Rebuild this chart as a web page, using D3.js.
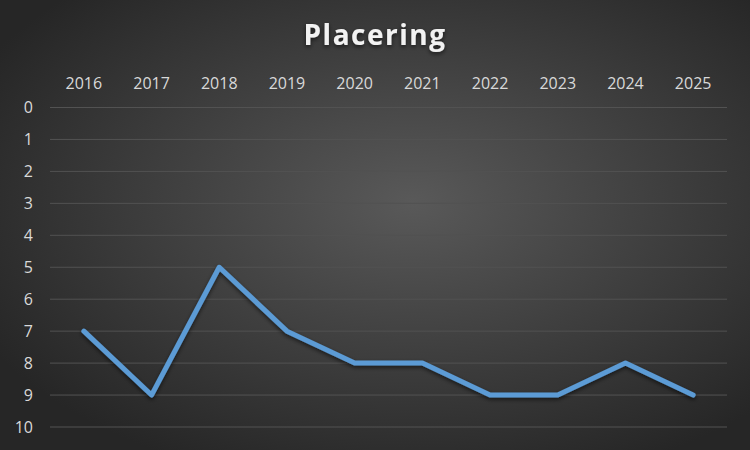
<!DOCTYPE html>
<meta charset="utf-8">
<style>
  body { margin: 0; }
  svg { display: block; }
</style>
<script src="https://d3js.org/d3.v7.min.js"></script>
<div id="chart"></div>
<script>
  var years = ["2016", "2017", "2018", "2019", "2020", "2021", "2022", "2023", "2024", "2025"];
  var placering = [7, 9, 5, 7, 8, 8, 9, 9, 8, 9];
  var yTicks = [0, 1, 2, 3, 4, 5, 6, 7, 8, 9, 10];

  var width = 750, height = 450;
  var margin = {top: 107.5, right: 23, bottom: 23, left: 50};

  var svg = d3.select("#chart").append("svg")
    .attr("width", width)
    .attr("height", height);

  var defs = svg.append("defs");
  var grad = defs.append("radialGradient")
    .attr("id", "bg")
    .attr("cx", "55%").attr("cy", "45%").attr("r", "65%");
  grad.append("stop").attr("offset", "0%").attr("stop-color", "#595959");
  grad.append("stop").attr("offset", "100%").attr("stop-color", "#262626");

  var shadow = defs.append("filter").attr("id", "shadow")
    .attr("x", "-10%").attr("y", "-10%").attr("width", "120%").attr("height", "130%");
  shadow.append("feDropShadow")
    .attr("dx", 0).attr("dy", 2).attr("stdDeviation", 2)
    .attr("flood-color", "#000").attr("flood-opacity", 0.6);

  svg.append("rect")
    .attr("width", width).attr("height", height)
    .attr("fill", "url(#bg)");

  var x = d3.scalePoint()
    .domain(years)
    .range([margin.left, width - margin.right])
    .padding(0.5);

  var y = d3.scaleLinear()
    .domain([0, 10])
    .range([margin.top, height - margin.bottom]);

  // gridlines
  svg.append("g")
    .selectAll("line")
    .data(yTicks)
    .join("line")
      .attr("x1", margin.left)
      .attr("x2", width - margin.right)
      .attr("y1", function(d) { return y(d); })
      .attr("y2", function(d) { return y(d); })
      .attr("stroke", "#525252")
      .attr("stroke-width", 1);

  // y labels
  svg.append("g")
    .selectAll("text")
    .data(yTicks)
    .join("text")
      .attr("x", 33)
      .attr("y", function(d) { return y(d); })
      .attr("dy", "0.35em")
      .attr("text-anchor", "end")
      .attr("fill", "#d9d9d9")
      .style("font-family", "'Open Sans', sans-serif")
      .style("font-size", "16px")
      .text(function(d) { return d; });

  // x labels (top)
  svg.append("g")
    .selectAll("text")
    .data(years)
    .join("text")
      .attr("x", function(d) { return x(d); })
      .attr("y", 83)
      .attr("dy", "0.35em")
      .attr("text-anchor", "middle")
      .attr("fill", "#d9d9d9")
      .style("font-family", "'Open Sans', sans-serif")
      .style("font-size", "16px")
      .text(function(d) { return d; });

  // title
  svg.append("text")
    .attr("x", width / 2)
    .attr("y", 45)
    .attr("text-anchor", "middle")
    .attr("fill", "#f2f2f2")
    .attr("filter", "url(#shadow)")
    .style("font-family", "'Open Sans', sans-serif")
    .style("font-weight", "bold")
    .style("font-size", "28px")
    .style("letter-spacing", "1.5px")
    .text("Placering");

  // line
  var line = d3.line()
    .x(function(d, i) { return x(years[i]); })
    .y(function(d) { return y(d); });

  svg.append("path")
    .datum(placering)
    .attr("fill", "none")
    .attr("stroke", "#5b9bd5")
    .attr("stroke-width", 5)
    .attr("stroke-linejoin", "round")
    .attr("stroke-linecap", "round")
    .attr("filter", "url(#shadow)")
    .attr("d", line);
</script>
